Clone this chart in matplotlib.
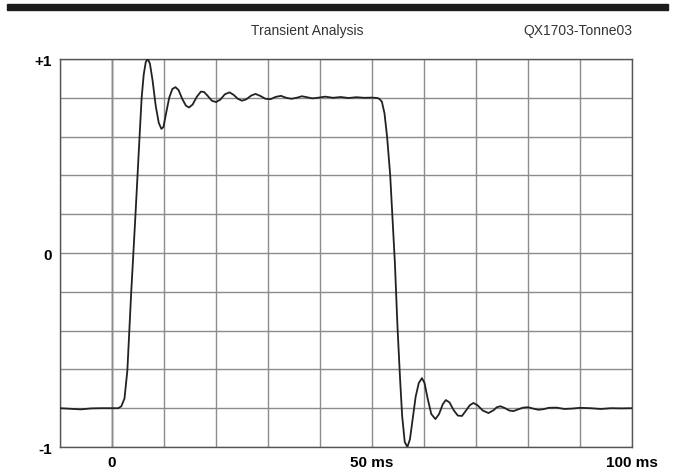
import matplotlib
matplotlib.use("Agg")
from matplotlib import pyplot as plt
from matplotlib.patches import Rectangle

plt.rcParams['font.family'] = ['Liberation Sans', 'DejaVu Sans']

# waveform (time in ms, normalised amplitude)
t_ms = [-10, -8, -6, -4, -2, 0, 1.2, 1.8, 2.4, 2.95, 3.7, 4.5, 5.3, 5.7, 6.1, 6.5,
        6.9, 7.3, 7.8, 8.4, 9.0, 9.5, 9.9, 10.4, 11.0, 11.6, 12.2, 12.8, 13.5, 14.2,
        14.8, 15.5, 16.3, 17.1, 17.7, 18.4, 19.2, 20.0, 20.8, 21.7, 22.6, 23.4, 24.2,
        25.0, 25.8, 26.8, 27.6, 28.5, 29.5, 30.5, 31.5, 32.5, 33.5, 34.5, 35.5, 36.5,
        37.5, 38.5, 39.5, 41.0, 42.5, 44.0, 45.5, 47.0, 48.5, 50.0, 51.0, 51.4, 51.9,
        52.4, 52.9, 53.5, 54.0, 54.4, 54.9, 55.4, 55.8, 56.3, 56.8, 57.3, 57.8, 58.4,
        59.0, 59.6, 60.1, 60.7, 61.4, 62.2, 62.9, 63.6, 64.2, 64.9, 65.7, 66.5, 67.3,
        68.0, 68.8, 69.5, 70.3, 71.3, 72.4, 73.4, 74.0, 74.7, 75.6, 76.4, 77.2, 78.2,
        79.1, 80.0, 81.0, 82.0, 83.0, 84.0, 85.5, 87.0, 88.5, 90.0, 92.0, 94.0, 96.0,
        98.0, 100.0]
amp = [-0.800, -0.803, -0.806, -0.801, -0.800, -0.800, -0.800, -0.790, -0.750, -0.607,
       -0.200, 0.190, 0.600, 0.800, 0.920, 0.985, 1.000, 0.975, 0.890, 0.760, 0.670,
       0.640, 0.650, 0.720, 0.800, 0.845, 0.855, 0.840, 0.795, 0.760, 0.750, 0.765,
       0.805, 0.832, 0.830, 0.810, 0.785, 0.778, 0.790, 0.818, 0.828, 0.815, 0.795,
       0.785, 0.792, 0.812, 0.820, 0.810, 0.795, 0.793, 0.805, 0.810, 0.800, 0.795,
       0.800, 0.808, 0.803, 0.797, 0.800, 0.806, 0.800, 0.804, 0.799, 0.803, 0.800,
       0.801, 0.799, 0.795, 0.780, 0.720, 0.600, 0.400, 0.150, -0.050, -0.380, -0.650,
       -0.840, -0.975, -1.000, -0.960, -0.860, -0.740, -0.670, -0.645, -0.670, -0.750,
       -0.830, -0.856, -0.830, -0.780, -0.758, -0.770, -0.810, -0.838, -0.840, -0.815,
       -0.785, -0.773, -0.785, -0.812, -0.825, -0.810, -0.795, -0.790, -0.800, -0.812,
       -0.815, -0.805, -0.797, -0.795, -0.802, -0.808, -0.805, -0.798, -0.797, -0.804,
       -0.802, -0.798, -0.800, -0.804, -0.800, -0.801, -0.800]

x_grid = list(range(-10, 101, 10))
y_grid = [-1.0, -0.8, -0.6, -0.4, -0.2, 0.0, 0.2, 0.4, 0.6, 0.8, 1.0]
x_labels = {0: "0", 50: "50 ms", 100: "100 ms"}
y_labels = {-1.0: "-1", 0.0: "0", 1.0: "+1"}

fig = plt.figure(figsize=(6.75, 4.77), dpi=100)
fig.patches.append(Rectangle((7 / 675, 1 - 11 / 477), 661 / 675, 6 / 477,
                             transform=fig.transFigure, color='#1c1c1c', zorder=0))
fig.text(0.455, 1 - 31 / 477, "Transient Analysis", ha='center', va='center',
         fontsize=10, color='#333333')
fig.text(632 / 675, 1 - 31 / 477, "QX1703-Tonne03", ha='right', va='center',
         fontsize=10, color='#333333')

ax = fig.add_axes([60 / 675, 1 - 448 / 477, 572 / 675, 388 / 477])
ax.set_xlim(-10, 100)
ax.set_ylim(-1, 1)

ax.set_xticks(x_grid)
ax.set_xticklabels([x_labels.get(v, "") for v in x_grid])
ax.set_yticks(y_grid)
ax.set_yticklabels([y_labels.get(round(v, 1), "") for v in y_grid])
ax.tick_params(length=0, labelsize=11, pad=6)
for lab in ax.get_xticklabels() + ax.get_yticklabels():
    lab.set_fontweight('bold')

ax.grid(True, color='#8c8c8c', linewidth=1.0)
ax.axvline(0, color='#2a2a2a', linewidth=1.0, zorder=1)
for s in ax.spines.values():
    s.set_color('#555555')
    s.set_linewidth(1.0)

ax.plot(t_ms, amp, '-', color='#222222', linewidth=1.3, zorder=3)

fig.savefig("out.png", dpi=100)
